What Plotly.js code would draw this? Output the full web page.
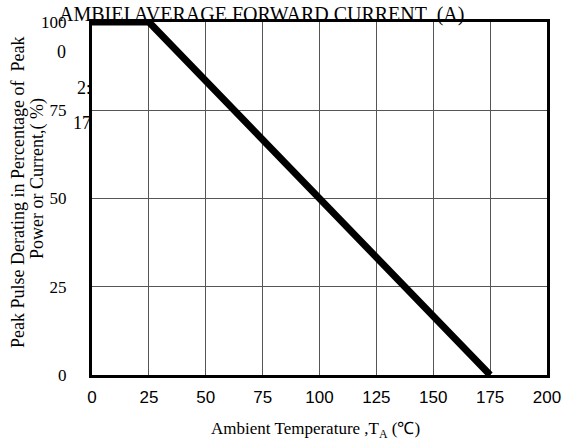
<!DOCTYPE html>
<html>
<head>
<meta charset="utf-8">
<script src="https://cdn.plot.ly/plotly-3.0.1.min.js"></script>
<style>html,body{margin:0;padding:0;background:#fff;}#chart{width:563px;height:444px;}</style>
</head>
<body>
<div id="chart"></div>
<script>
// Data
const temperature = [0, 25, 175];
const derating = [100, 100, 0];
const xTicks = [0, 25, 50, 75, 100, 125, 150, 175, 200];
const yTicks = [0, 25, 50, 75, 100];
const titleText = "AMBIEI AVERAGE FORWARD CURRENT  (A)";
const xTitle = "Ambient Temperature ,T<sub>A</sub> (\u2103)";
const yTitle1 = "Peak Pulse Derating in Percentage of  Peak";
const yTitle2 = "Power or Current,( %)";
const strayLabels = ["0", "2:", "17"];

const L = 92, R = 16, T = 22, B = 69, W = 563, H = 444;
const pw = W - L - R, ph = H - T - B;
const px = v => (v - L) / pw;
const py = v => (H - B - v) / ph;
const serif = "Liberation Serif, Times New Roman, serif";

const trace = {
  x: temperature, y: derating, type: 'scatter', mode: 'lines',
  line: {color: '#000', width: 7}, cliponaxis: false, hoverinfo: 'skip'
};

const layout = {
  width: W, height: H,
  margin: {l: L, r: R, t: T, b: B},
  paper_bgcolor: '#fff', plot_bgcolor: '#fff',
  showlegend: false,
  xaxis: {
    range: [0, 200], tickvals: xTicks, ticktext: xTicks.map(String),
    showgrid: true, gridcolor: '#555', gridwidth: 1,
    showline: true, mirror: true, linecolor: '#000', linewidth: 3,
    zeroline: false, ticks: '', ticklabelstandoff: 5,
    tickfont: {family: "Liberation Sans, Arial, sans-serif", size: 17, color: '#000'}
  },
  yaxis: {
    range: [0, 100], tickvals: yTicks, ticktext: yTicks.map(String),
    showgrid: true, gridcolor: '#555', gridwidth: 1,
    showline: true, mirror: true, linecolor: '#000', linewidth: 3,
    zeroline: false, ticks: '', ticklabelstandoff: 19,
    tickfont: {family: serif, size: 17, color: '#000'}
  },
  annotations: [
    {text: titleText, xref: 'paper', yref: 'paper', x: px(261), y: 1, xanchor: 'center', yanchor: 'bottom', yshift: -6, showarrow: false, font: {family: serif, size: 20, color: '#000'}},
    {text: xTitle, xref: 'paper', yref: 'paper', x: px(315), y: py(430), xanchor: 'center', yanchor: 'middle', showarrow: false, font: {family: serif, size: 17, color: '#000'}},
    {text: yTitle1, xref: 'paper', yref: 'paper', x: px(18), y: py(193), xanchor: 'center', yanchor: 'middle', textangle: -90, showarrow: false, font: {family: serif, size: 18, color: '#000'}},
    {text: yTitle2, xref: 'paper', yref: 'paper', x: px(37), y: py(179), xanchor: 'center', yanchor: 'middle', textangle: -90, showarrow: false, font: {family: serif, size: 18, color: '#000'}},
    {text: strayLabels[0], xref: 'paper', yref: 'paper', x: px(61), y: py(52), xanchor: 'center', yanchor: 'middle', showarrow: false, font: {family: serif, size: 18, color: '#000'}},
    {text: strayLabels[1], xref: 'paper', yref: 'paper', x: px(93), y: py(88), xanchor: 'right', yanchor: 'middle', showarrow: false, font: {family: serif, size: 18, color: '#000'}},
    {text: strayLabels[2], xref: 'paper', yref: 'paper', x: px(93), y: py(123), xanchor: 'right', yanchor: 'middle', showarrow: false, font: {family: serif, size: 18, color: '#000'}}
  ]
};

Plotly.newPlot('chart', [trace], layout, {staticPlot: true, displayModeBar: false});
</script>
</body>
</html>
